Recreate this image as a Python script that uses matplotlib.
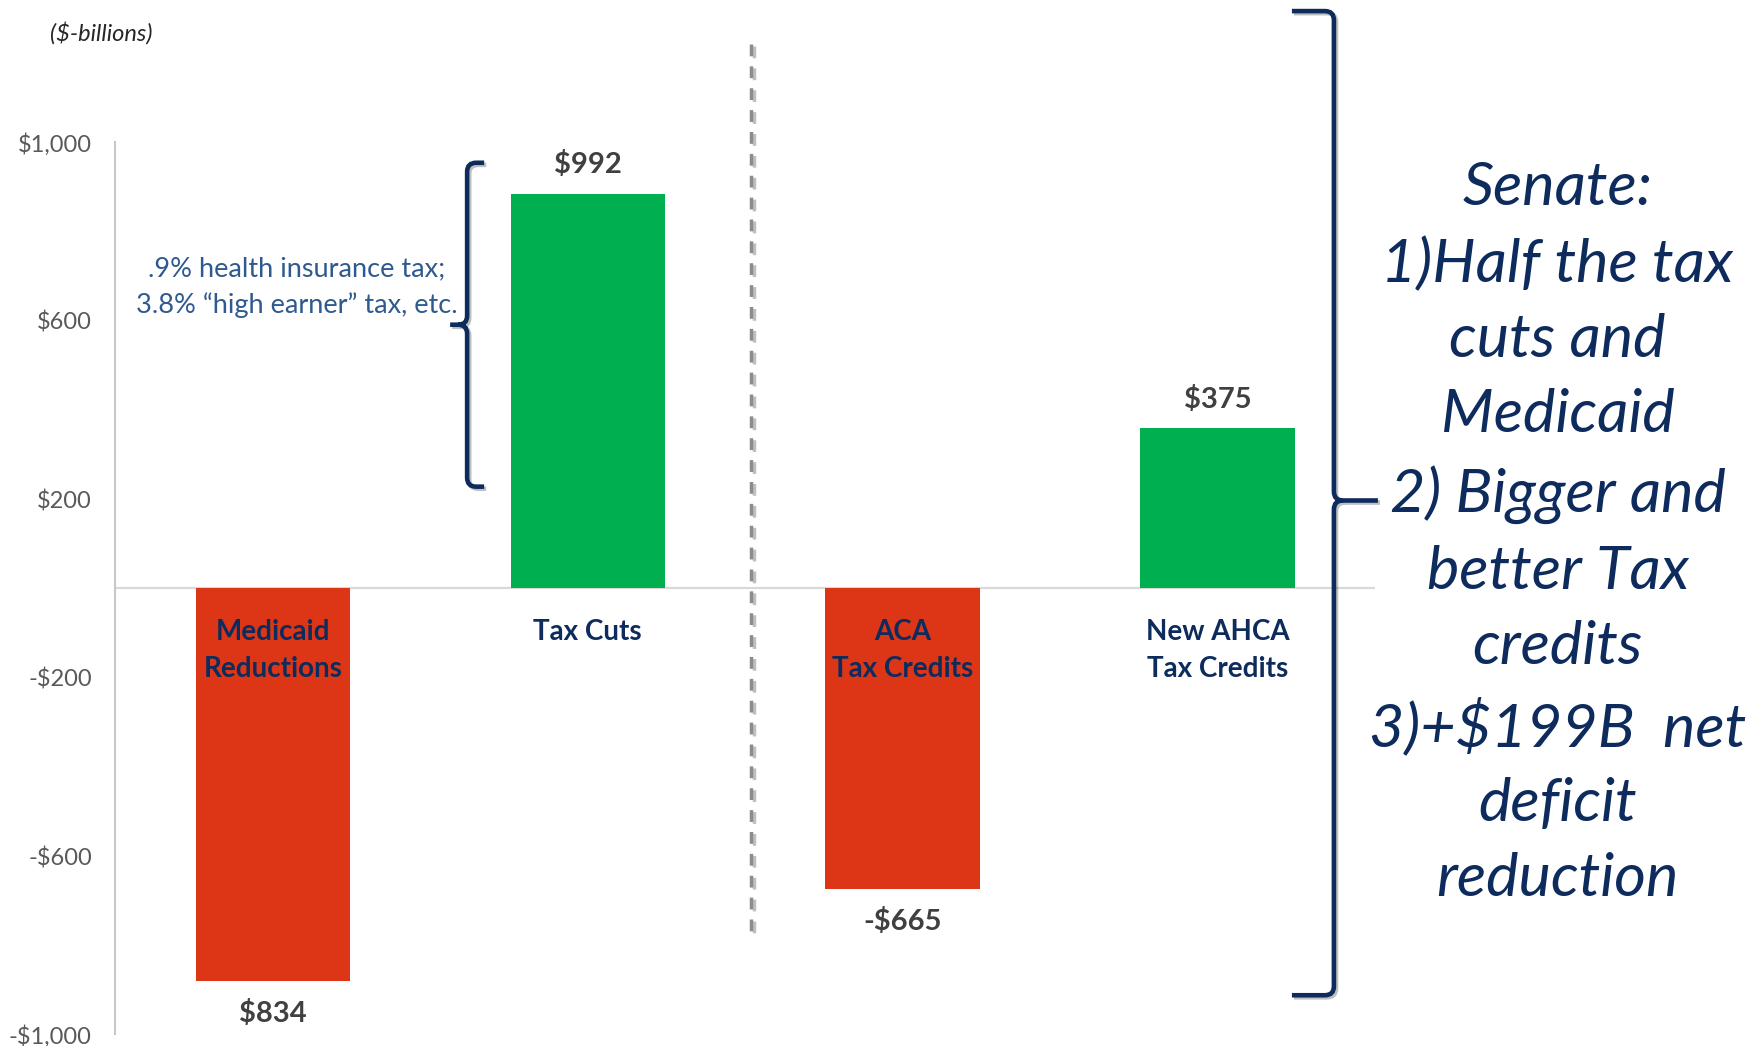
import matplotlib
matplotlib.use('Agg')
import matplotlib.pyplot as plt
import matplotlib.patheffects as pe
from matplotlib.path import Path
from matplotlib.patches import PathPatch
from matplotlib.transforms import IdentityTransform

plt.rcParams['font.family'] = ['Lato', 'DejaVu Sans']

# Data
categories = ['Medicaid\nReductions', 'Tax Cuts', 'ACA\nTax Credits', 'New AHCA\nTax Credits']
bar_values = [-880, 885, -674, 359]
value_labels = ['$834', '$992', '-$665', '$375']
bar_colors = ['#dc3616', '#00b050', '#dc3616', '#00b050']
y_ticks = [1000, 600, 200, -200, -600, -1000]
y_tick_labels = ['$1,000', '$600', '$200', '-$200', '-$600', '-$1,000']

note_text = '.9% health insurance tax;\n3.8% \u201chigh earner\u201d tax, etc.'
senate_text = ('Senate:\n1)Half the tax\ncuts and\nMedicaid\n2) Bigger and\n'
               'better Tax\ncredits\n3)+$199B  net\ndeficit\nreduction')

navy = '#0d2b5c'
shadow = [pe.SimpleLineShadow(offset=(1.5, -1.5), alpha=0.25), pe.Normal()]


def draw_brace(ax, x, y_top, y_bot, y_tip, side, hook, tip, r=9, lw=3.3):
    # side=+1: tip points right, hooks point left; side=-1 the other way
    px, pt = ax.transData.transform((x, y_top))
    _, pb = ax.transData.transform((x, y_bot))
    _, pm = ax.transData.transform((x, y_tip))
    s = side
    verts = [(px - s * hook, pt), (px - s * r, pt), (px, pt), (px, pt - r),
             (px, pm + r), (px, pm), (px + s * r, pm), (px + s * tip, pm),
             (px + s * r, pm), (px, pm), (px, pm - r), (px, pb + r),
             (px, pb), (px - s * r, pb), (px - s * hook, pb)]
    codes = [Path.MOVETO, Path.LINETO, Path.CURVE3, Path.CURVE3,
             Path.LINETO, Path.CURVE3, Path.CURVE3, Path.LINETO,
             Path.MOVETO, Path.CURVE3, Path.CURVE3, Path.LINETO,
             Path.CURVE3, Path.CURVE3, Path.LINETO]
    patch = PathPatch(Path(verts, codes), fill=False, edgecolor=navy, lw=lw,
                      transform=IdentityTransform(), capstyle='butt')
    patch.set_path_effects(shadow)
    ax.figure.add_artist(patch)


fig = plt.figure(figsize=(17.57, 10.46), dpi=100)
ax = fig.add_axes([0.0657, 0.011, 0.7168, 0.853])

x = range(len(categories))
ax.bar(x, bar_values, width=0.49, color=bar_colors, zorder=2)
ax.set_xlim(-0.5, 3.5)
ax.set_ylim(-1000, 1000)
ax.axhline(0, color='#d9d9d9', lw=1.6, zorder=1)

for s in ['top', 'right', 'bottom']:
    ax.spines[s].set_visible(False)
ax.spines['left'].set_color('#c8c8c8')
ax.spines['left'].set_linewidth(1.5)
ax.set_xticks([])
ax.set_yticks(y_ticks, y_tick_labels)
ax.tick_params(axis='y', length=0, pad=17, labelsize=17, labelcolor='#595959')

# value labels
for i, (v, lbl) in enumerate(zip(bar_values, value_labels)):
    off = 21 if v > 0 else -23.5
    ax.annotate(lbl, (i, v), xytext=(0, off), textcoords='offset points',
                ha='center', va='center', fontsize=21, fontweight='bold',
                color='#404040')

# category labels just under the zero line
for i, cat in enumerate(categories):
    ax.annotate(cat, (i, 0), xytext=(0, -22), textcoords='offset points',
                ha='center', va='top', fontsize=20, fontweight='bold',
                color=navy, linespacing=1.55, zorder=3)

# divider between the two groups
divider_x = 1.52
ax.plot([divider_x, divider_x], [1220, -770], color='#8c8c8c', lw=2.5,
        linestyle=(0, (3.4, 2.9)), clip_on=False, path_effects=shadow)

# braces
draw_brace(ax, 0.617, 954, 228, 591, side=-1, hook=17, tip=17)
draw_brace(ax, 3.37, 1294, -912, 197, side=1, hook=42, tip=44)

fig.text(0.0287, 0.968, '($-billions)', style='italic', fontsize=17,
         color='#262626', va='center')
fig.text(0.169, 0.7256, note_text, ha='center', va='center', fontsize=19.5,
         color='#2f5a8f', linespacing=1.5)
fig.text(0.8865, 0.49, senate_text, ha='center', va='center', fontsize=44,
         style='italic', color=navy, linespacing=1.48)

fig.savefig('out.png', dpi=100)
